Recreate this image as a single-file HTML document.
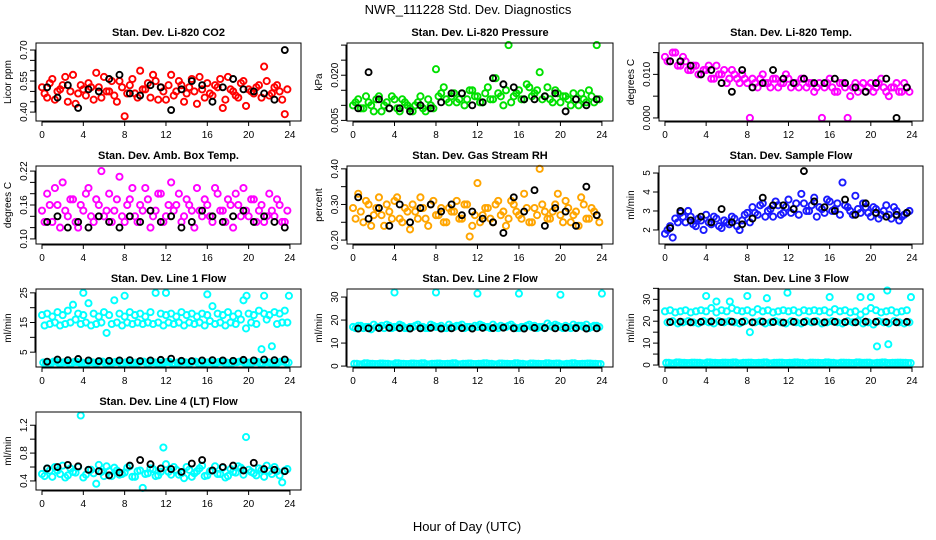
<!DOCTYPE html>
<html><head><meta charset="utf-8"><style>
body{margin:0;background:#fff;}
svg{display:block;font-family:"Liberation Sans",sans-serif;}
</style></head><body>
<svg id="chart" width="936" height="540" viewBox="0 0 936 540" xmlns="http://www.w3.org/2000/svg">
<rect width="936" height="540" fill="#fff"/>
<text x="468" y="14" font-size="13" text-anchor="middle">NWR_111228  Std. Dev. Diagnostics</text>
<text x="467" y="531" font-size="13" text-anchor="middle">Hour of Day (UTC)</text>
</svg>
<script>
const xTicks=[0,4,8,12,16,20,24];
const p1A=[0.52,0.47,0.56,0.50,0.53,0.45,0.58,0.49,0.51,0.54,0.46,0.52,0.57,0.50,0.48,0.55,0.38,0.53,0.49,0.60,0.51,0.47,0.55,0.52,0.46,0.58,0.50,0.53,0.49,0.56,0.44,0.51,0.54,0.48,0.52,0.42,0.57,0.50,0.47,0.55,0.51,0.49,0.53,0.62,0.48,0.52,0.50,0.39];
const p1B=[0.49,0.54,0.46,0.51,0.57,0.50,0.44,0.53,0.48,0.52,0.59,0.47,0.50,0.55,0.45,0.52,0.49,0.56,0.47,0.51,0.54,0.58,0.46,0.50,0.53,0.48,0.55,0.45,0.52,0.50,0.57,0.47,0.49,0.53,0.56,0.46,0.51,0.48,0.54,0.43,0.50,0.52,0.47,0.55,0.49,0.53,0.46,0.51];
const p1K=[0.52,0.47,0.53,0.42,0.51,0.50,0.56,0.58,0.49,0.48,0.53,0.52,0.41,0.51,0.55,0.53,0.45,0.52,0.56,0.51,0.50,0.49,0.46,0.70];
const p2A=[0.010,0.012,0.009,0.011,0.008,0.013,0.010,0.009,0.012,0.008,0.011,0.009,0.010,0.013,0.008,0.010,0.022,0.014,0.012,0.013,0.011,0.014,0.012,0.015,0.013,0.011,0.016,0.012,0.014,0.010,0.030,0.013,0.015,0.012,0.016,0.014,0.021,0.013,0.012,0.015,0.011,0.013,0.010,0.012,0.014,0.011,0.013,0.030];
const p2B=[0.011,0.009,0.013,0.010,0.012,0.008,0.011,0.013,0.009,0.012,0.010,0.008,0.011,0.009,0.012,0.009,0.013,0.016,0.011,0.014,0.012,0.010,0.015,0.013,0.011,0.014,0.012,0.019,0.013,0.015,0.011,0.014,0.012,0.017,0.013,0.015,0.012,0.016,0.011,0.014,0.013,0.012,0.014,0.010,0.012,0.015,0.011,0.012];
const p2K=[0.009,0.021,0.012,0.009,0.009,0.008,0.010,0.009,0.011,0.014,0.014,0.010,0.011,0.019,0.017,0.016,0.012,0.012,0.013,0.014,0.008,0.012,0.010,0.012];
const p3A=[0.014,0.013,0.015,0.012,0.013,0.011,0.012,0.010,0.011,0.009,0.012,0.010,0.008,0.011,0.009,0.010,0.008,0.009,0.007,0.010,0.008,0.009,0.007,0.008,0.009,0.008,0.007,0.009,0.008,0.006,0.008,0.007,0.009,0.006,0.008,0.007,0.005,0.008,0.007,0.006,0.008,0.007,0.009,0.006,0.007,0.008,0.006,0.007];
const p3B=[0.013,0.015,0.012,0.014,0.011,0.012,0.010,0.011,0.012,0.009,0.010,0.011,0.009,0.010,0.008,0.009,0.000,0.008,0.009,0.008,0.007,0.009,0.008,0.010,0.007,0.008,0.009,0.007,0.008,0.007,0.000,0.008,0.007,0.006,0.008,0.000,0.007,0.006,0.008,0.007,0.006,0.008,0.007,0.005,0.007,0.006,0.008,0.006];
const p3K=[0.013,0.013,0.012,0.010,0.011,0.008,0.006,0.011,0.007,0.008,0.011,0.009,0.008,0.009,0.008,0.008,0.009,0.008,0.007,0.006,0.008,0.009,0.000,0.007];
const p4A=[0.15,0.18,0.13,0.16,0.20,0.14,0.17,0.12,0.15,0.19,0.13,0.16,0.14,0.18,0.15,0.21,0.13,0.17,0.14,0.16,0.19,0.12,0.15,0.18,0.14,0.20,0.16,0.13,0.17,0.15,0.19,0.14,0.16,0.13,0.18,0.15,0.17,0.12,0.16,0.19,0.14,0.17,0.15,0.13,0.18,0.14,0.16,0.13];
const p4B=[0.13,0.16,0.19,0.12,0.15,0.17,0.13,0.16,0.18,0.14,0.17,0.22,0.15,0.13,0.17,0.14,0.16,0.19,0.13,0.15,0.17,0.14,0.18,0.13,0.16,0.15,0.18,0.14,0.16,0.12,0.15,0.17,0.14,0.19,0.15,0.13,0.16,0.18,0.14,0.15,0.17,0.13,0.16,0.14,0.15,0.17,0.13,0.15];
const p4K=[0.13,0.14,0.12,0.13,0.12,0.14,0.13,0.12,0.14,0.13,0.15,0.13,0.14,0.12,0.13,0.15,0.14,0.13,0.14,0.15,0.13,0.14,0.13,0.12];
const p5A=[0.29,0.33,0.25,0.30,0.27,0.32,0.24,0.28,0.31,0.26,0.29,0.23,0.28,0.32,0.26,0.30,0.27,0.29,0.25,0.28,0.31,0.26,0.30,0.24,0.36,0.27,0.29,0.25,0.31,0.28,0.26,0.30,0.27,0.33,0.25,0.29,0.40,0.28,0.26,0.30,0.27,0.31,0.25,0.28,0.32,0.26,0.29,0.27];
const p5B=[0.26,0.28,0.31,0.24,0.29,0.27,0.30,0.26,0.32,0.25,0.28,0.30,0.26,0.29,0.24,0.31,0.27,0.25,0.29,0.28,0.26,0.30,0.21,0.27,0.25,0.29,0.26,0.30,0.27,0.24,0.31,0.28,0.26,0.29,0.25,0.27,0.30,0.26,0.28,0.33,0.25,0.29,0.27,0.24,0.30,0.26,0.28,0.25];
const p5K=[0.32,0.26,0.29,0.24,0.30,0.25,0.29,0.30,0.28,0.30,0.27,0.28,0.26,0.25,0.22,0.32,0.28,0.34,0.24,0.29,0.28,0.24,0.35,0.27];
const p6A=[1.8,2.2,2.6,2.9,2.4,2.7,2.2,2.5,2.8,2.3,2.6,2.1,2.4,2.7,2.2,2.5,2.9,3.2,2.8,3.4,3.0,2.7,3.3,2.9,3.6,3.1,2.8,3.4,3.0,3.7,3.2,2.9,3.5,3.1,2.8,3.3,3.0,3.8,2.9,3.2,2.7,3.1,2.8,3.3,2.6,3.0,2.7,2.9];
const p6B=[2.0,1.6,2.4,2.7,3.0,2.3,2.6,2.0,2.4,2.7,2.2,2.5,2.3,2.6,2.0,2.8,2.4,2.9,3.3,2.7,3.1,3.5,2.8,3.2,2.9,3.4,3.9,3.0,3.3,2.7,3.1,3.6,3.0,3.4,4.5,3.2,2.8,3.1,3.4,2.9,3.2,2.6,3.0,2.8,3.2,2.5,2.8,3.0];
const p6K=[2.1,3.0,2.5,2.7,2.4,3.1,2.4,2.3,2.6,3.7,3.3,3.3,3.1,5.1,3.5,3.2,3.0,3.6,2.8,3.4,2.9,2.7,2.8,2.9];
const p7A=[17.5,18,17,18.5,17.5,19,21,18,17.5,21.5,18,17,18.5,17.5,22.5,18,17,18.5,17.5,18,17,18.5,25,18,17.5,18,17,18.5,17.5,18,17,18,17.5,20.5,18,17.5,18.5,17,18,22.5,18,17.5,19,18,17.5,18.5,18,19];
const p7B=[14,14.5,15,14,14.5,15,16,14.5,15,14,14.5,15,11.5,14.5,15,14,15,14.5,15,14.5,15,14.5,15,14,15,14.5,15,14,15,14.5,15,14,15.5,14.5,15,14,15,14.5,16,13,15,14.5,6,16,7,14.5,15,15];
const p7C=[1.5,1.2,1.8,1.4,1.6,1.3,1.7,1.5,1.2,1.6,1.4,1.8,1.3,1.5,1.7,1.2,1.6,1.4,1.5,1.8,1.3,1.6,1.4,1.5,1.7,1.2,1.5,1.6,1.4,1.8,1.3,1.5,1.6,1.4,1.7,1.5,1.3,1.6,1.8,1.4,1.5,1.7,1.3,1.6,1.4,1.5,1.8,1.5];
const p7K=[1.8,2.5,2.3,2.7,2.2,2.0,2.1,2.2,2.3,2.0,2.2,2.4,2.8,2.1,2.0,2.2,2.3,2.2,2.1,2.4,2.2,2.5,2.3,2.5];
const p7OutT=[4.0,8.0,12.0,16.0,19.8,21.5,23.9];
const p7OutV=[25,24,25,24.5,24,24,24];
const p8A=[17,17.5,16.5,17,18,17,16.5,17.5,17,18,16.5,17,17.5,17,16.5,18,17,17.5,16.5,17,17.5,18,17,16.5,17,17.5,17,18,16.5,17,17.5,17,16.5,17,18,17.5,17,16.5,17.5,18,17,17.5,16.5,17,17.5,18,17,17.5];
const p8B=[16.5,17.5,17,16,17,17.5,18,16.5,17,17.5,16.5,17,18,17,16.5,17.5,17,16.5,18,17,17.5,16.5,17,17.5,18,17,16.5,17,17.5,17,18,16.5,17,17.5,17,16.5,17,18.5,17,17.5,16.5,17,18,17.5,17,16.5,17.5,17];
const p8C=[1,0.8,1.2,1,0.9,1.1,1,0.8,1.2,1,0.9,1.1,1,1.2,0.8,1,1.1,0.9,1,1.2,0.8,1,1.1,0.9,1,1.2,1,0.8,1.1,1,0.9,1.2,1,0.8,1.1,1,0.9,1.2,1,1.1,0.8,1,1.2,0.9,1,1.1,1,0.9];
const p8K=[16.3,16.4,16.5,16.6,16.5,16.3,16.4,16.6,16.3,16.4,16.5,16.3,16.6,16.5,16.7,16.4,16.3,16.6,16.5,16.4,16.6,16.5,16.3,16.4];
const p8OutT=[4.0,8.0,12.0,16.0,20.0,24.0];
const p8OutV=[32,32,31.5,31.5,31,31.5];
const p9A=[24.5,25,24,24.5,25,24,24.5,25,24.5,26,24,25,24.5,26,25,24.5,25,24,25.5,24.5,25,24,24.5,25,24.5,25,24,25,24.5,25,24.5,25,24,25.5,24.5,25,24,24.5,23,24.5,26,25,24,24.5,25,24,24.5,25];
const p9B=[19.5,20,19,19.5,20,19.5,19,20,19.5,19,20,19.5,20,19.5,19,20,15,19.5,20,19,19.5,20,19.5,19,20,19.5,19,20,19.5,20,19,19.5,20,19.5,19,20,19.5,20,19,19.5,18.5,20,19.5,19,20,19.5,19,19.5];
const p9C=[1,0.8,1.2,1,0.9,1.1,1,0.8,1.2,1,0.9,1.1,1,1.2,0.8,1,1.1,0.9,1,1.2,0.8,1,1.1,0.9,1,1.2,1,0.8,1.1,1,0.9,1.2,1,0.8,1.1,1,0.9,1.2,1,1.1,0.8,1,1.2,0.9,1,1.1,1,0.9];
const p9K=[19.6,19.8,19.5,19.7,19.9,19.6,19.8,19.7,19.5,19.8,19.6,19.4,19.7,19.6,19.8,19.5,19.7,19.6,19.5,19.8,19.7,19.6,19.5,19.7];
const p9OutT=[4.0,5.0,6.3,8.0,9.9,11.9,16.0,19.0,20.0,20.6,21.7,21.6,23.9];
const p9OutV=[31.5,29,29,31.5,30.5,33,31,31,31,8.5,9.5,34,31];
const p10A=[0.50,0.58,0.46,0.55,0.62,0.48,0.53,0.60,0.45,0.56,0.51,0.63,0.47,0.54,0.59,0.49,0.52,0.61,0.46,0.55,0.50,0.58,0.47,0.53,0.64,0.49,0.56,0.51,0.60,0.46,0.54,0.62,0.48,0.55,0.50,0.59,0.47,0.53,0.61,0.49,0.56,0.51,0.58,0.46,0.54,0.60,0.48,0.55];
const p10B=[0.47,0.55,0.60,0.50,0.45,0.58,0.52,1.34,0.49,0.56,0.36,0.53,0.61,0.47,0.55,0.50,0.59,0.46,0.54,0.30,0.51,0.57,0.48,0.88,0.53,0.60,0.49,0.44,0.56,0.51,0.58,0.47,0.54,0.61,0.50,0.45,0.57,0.52,0.59,1.03,0.53,0.48,0.56,0.62,0.50,0.54,0.38,0.57];
const p10K=[0.58,0.60,0.63,0.61,0.56,0.54,0.48,0.52,0.62,0.70,0.64,0.58,0.57,0.53,0.65,0.70,0.55,0.60,0.62,0.55,0.66,0.57,0.56,0.54];

const panels=[
 {name:'co2',title:'Stan. Dev. Li-820 CO2',ylab:'Licor ppm',col:0,row:0,dom:[0.357,0.734],ticks:[0.40,0.45,0.50,0.55,0.60,0.65,0.70],labels:[0.40,0.55,0.70],dec:2,color:'#ff0000',a:p1A,b:p1B,k:p1K},
 {name:'pressure',title:'Stan. Dev. Li-820 Pressure',ylab:'kPa',col:1,row:0,dom:[0.0048,0.0307],ticks:[0.005,0.010,0.015,0.020,0.025,0.030],labels:[0.005,0.020],dec:3,color:'#00e000',a:p2A,b:p2B,k:p2K},
 {name:'licor-temp',title:'Stan. Dev. Li-820 Temp.',ylab:'degrees C',col:2,row:0,dom:[-0.0007,0.0172],ticks:[0,0.005,0.010,0.015],labels:[0,0.010],dec:3,color:'#ff00ff',a:p3A,b:p3B,k:p3K},
 {name:'amb-box-temp',title:'Stan. Dev. Amb. Box Temp.',ylab:'degrees C',col:0,row:1,dom:[0.091,0.229],ticks:[0.10,0.12,0.14,0.16,0.18,0.20,0.22],labels:[0.10,0.16,0.22],dec:2,color:'#ff00ff',a:p4A,b:p4B,k:p4K},
 {name:'gas-rh',title:'Stan. Dev. Gas Stream RH',ylab:'percent',col:1,row:1,dom:[0.189,0.408],ticks:[0.20,0.25,0.30,0.35,0.40],labels:[0.20,0.30,0.40],dec:2,color:'#ffa500',a:p5A,b:p5B,k:p5K},
 {name:'sample-flow',title:'Stan. Dev. Sample Flow',ylab:'ml/min',col:2,row:1,dom:[1.26,5.37],ticks:[2,3,4,5],labels:[2,3,4,5],dec:0,color:'#1a1aff',a:p6A,b:p6B,k:p6K},
 {name:'line1-flow',title:'Stan. Dev. Line 1 Flow',ylab:'ml/min',col:0,row:2,dom:[0,26.3],ticks:[5,10,15,20,25],labels:[5,15,25],dec:0,color:'#00ffff',a:p7A,b:p7B,c:p7C,k:p7K,ot:p7OutT,ov:p7OutV},
 {name:'line2-flow',title:'Stan. Dev. Line 2 Flow',ylab:'ml/min',col:1,row:2,dom:[-0.4,33.5],ticks:[0,10,20,30],labels:[0,10,20,30],dec:0,color:'#00ffff',a:p8A,b:p8B,c:p8C,k:p8K,ot:p8OutT,ov:p8OutV},
 {name:'line3-flow',title:'Stan. Dev. Line 3 Flow',ylab:'ml/min',col:2,row:2,dom:[-0.9,34.7],ticks:[0,5,10,15,20,25,30,35],labels:[0,10,20,30],dec:0,color:'#00ffff',a:p9A,b:p9B,c:p9C,k:p9K,ot:p9OutT,ov:p9OutV},
 {name:'line4-flow',title:'Stan. Dev. Line 4 (LT) Flow',ylab:'ml/min',col:0,row:3,dom:[0.27,1.39],ticks:[0.4,0.6,0.8,1.0,1.2],labels:[0.4,0.8,1.2],dec:1,color:'#00ffff',a:p10A,b:p10B,k:p10K}
];
const colX=[[36,301],[347,613],[659,923]];
const rowY=[43,166,289,412];
const H=78;
const NS='http://www.w3.org/2000/svg';
const svg=document.getElementById('chart');
function mk(tag,attrs,parent){const e=document.createElementNS(NS,tag);for(const k in attrs)e.setAttribute(k,attrs[k]);parent.appendChild(e);return e;}
panels.forEach(p=>{
  const L=colX[p.col][0],R=colX[p.col][1],T=rowY[p.row],B=T+H;
  const xs=t=>L+(t+0.58)/(25.65)*(R-L);
  const ys=v=>B-(v-p.dom[0])/(p.dom[1]-p.dom[0])*H;
  const g=mk('g',{},svg);
  
  
  const tt=mk('text',{x:(L+R)/2,y:T-7,'font-size':11,'font-weight':'bold','text-anchor':'middle'},g);
  tt.textContent=p.title;
  
  
  const pts=mk('g',{fill:'none','stroke-width':1.9},g);
  
  
  function draw(arr,times,color,nm,r){arr.forEach((v,i)=>{const c=mk('circle',{cx:xs(times(i)),cy:ys(v),r:r,stroke:color},pts);
    
    });}
  draw(p.a,i=>i*0.5,p.color,p.name+'-point',3.1);
  draw(p.b,i=>i*0.5+0.25,p.color,p.name+'-point',3.1);
  if(p.c)draw(p.c,i=>i*0.5+0.12,p.color,p.name+'-point',3.1);
  if(p.c)draw(p.c,i=>i*0.5+0.37,p.color,p.name+'-point',3.1);
  if(p.ot)draw(p.ov,i=>p.ot[i],p.color,p.name+'-outlier',3.1);
  draw(p.k,i=>i+0.5,'#000',p.name+'-avg-point',3);
  const box=mk('rect',{x:L,y:T,width:R-L,height:H,fill:'none',stroke:'#000','stroke-width':1},g);
  
  
  const ax=mk('g',{stroke:'#000','stroke-width':1},g);
  
  
  mk('line',{x1:xs(0),x2:xs(24),y1:B+1,y2:B+1},ax);
  xTicks.forEach(t=>{mk('line',{x1:xs(t),x2:xs(t),y1:B,y2:B+5},ax);
    const tx=mk('text',{x:xs(t),y:B+17,'font-size':10,'text-anchor':'middle',stroke:'none'},g);
    tx.textContent=t;
    
    });
  mk('line',{x1:L-1,x2:L-1,y1:ys(p.ticks[0]),y2:ys(p.ticks[p.ticks.length-1])},ax);
  p.ticks.forEach(v=>mk('line',{x1:L-6,x2:L,y1:ys(v),y2:ys(v)},ax));
  p.labels.forEach(v=>{const y=ys(v),x=L-9;
    const tx=mk('text',{x:x,y:y,'font-size':10,'text-anchor':'middle',transform:'rotate(-90 '+x+' '+y+')'},g);
    tx.textContent=v.toFixed(p.dec);
    
    });
  const yl=L-25,ym=T+H/2;
  const lab=mk('text',{x:yl,y:ym,'font-size':10,'text-anchor':'middle',transform:'rotate(-90 '+yl+' '+ym+')'},g);
  lab.textContent=p.ylab;
  
  
});
</script>
</body></html>
